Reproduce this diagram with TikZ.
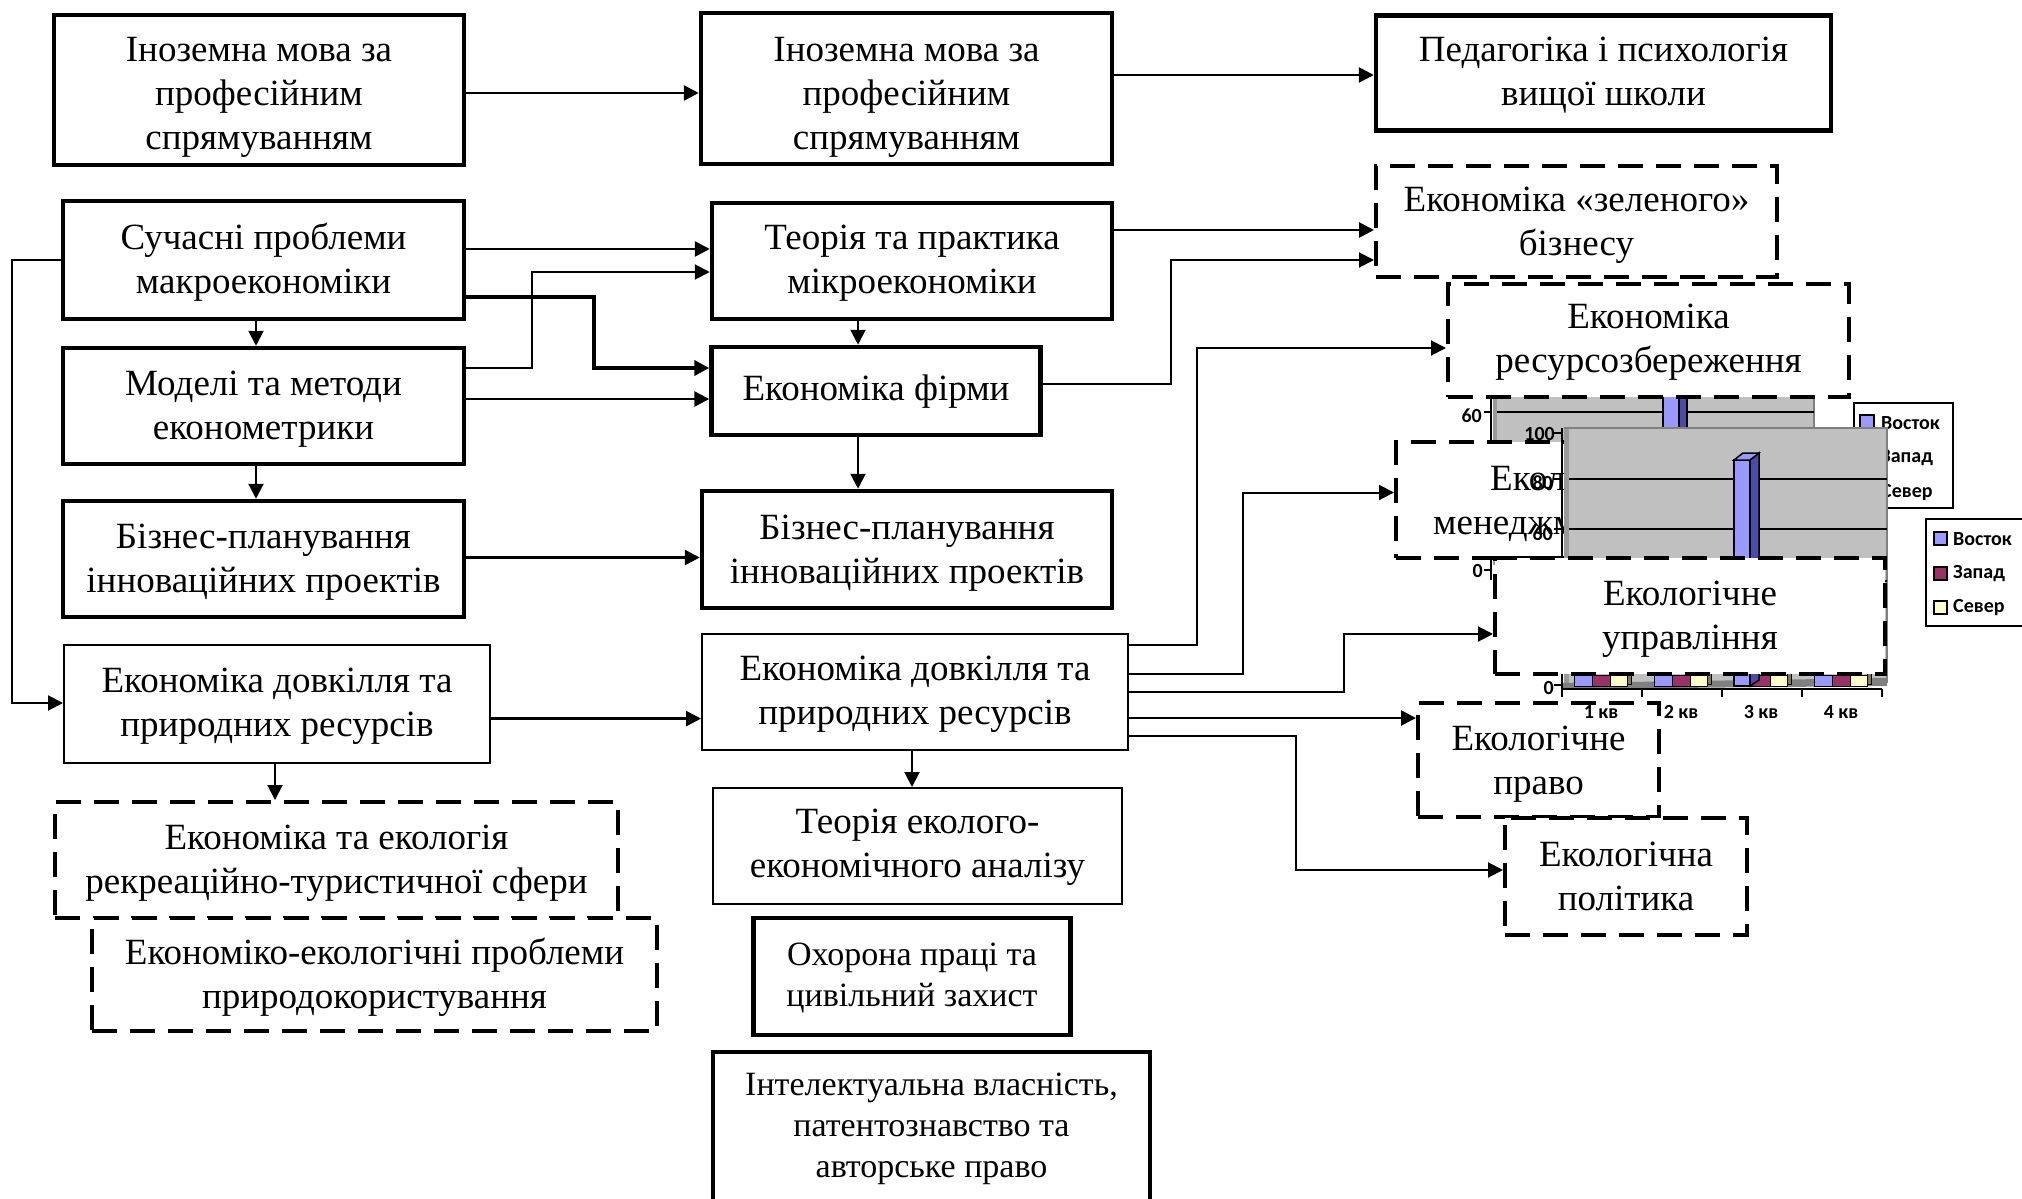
\documentclass[tikz,border=0pt]{standalone}
\usepackage{fontspec}
\setmainfont{Liberation Serif}
\newfontfamily\chartfont{Carlito}
\usetikzlibrary{arrows.meta}
\definecolor{chartgray}{HTML}{C0C0C0}
\definecolor{wallgray}{HTML}{9A9A9A}
\definecolor{edgegray}{HTML}{808080}
\definecolor{vostok}{HTML}{9999FF}
\definecolor{vostokside}{HTML}{4C4CA6}
\definecolor{zapad}{HTML}{993366}
\definecolor{sever}{HTML}{FFFFCC}
\definecolor{olive}{HTML}{807850}
\newcommand\boxfont{\fontsize{37}{44}\selectfont}
\newcommand\smallboxfont{\fontsize{34}{41}\selectfont}
\newcommand\lblfont{\chartfont\bfseries\fontsize{20}{22}\selectfont}
% box: style, name, cx, cy, w, h, text-offset, text
\newcommand\bx[8]{%
  \node[#1, minimum width=#5pt, minimum height=#6pt] (#2) at (#3,#4) {};
  \node[boxtext] (#2t) at (#3,{#4+#7}) {#8};}
\tikzset{
  box/.style={draw, fill=white, inner sep=0pt},
  boxtext/.style={inner sep=0pt, align=center, font=\boxfont},
  thickbox/.style={box, line width=4.5pt},
  thinbox/.style={box, line width=2pt},
  dashbox/.style={box, line width=4pt, dash pattern=on 25pt off 13pt},
  tip/.style={-{Triangle[length=15pt,width=15pt]}},
  arr/.style={tip, line width=2.7pt},
  thinarr/.style={tip, line width=2pt},
  boldarr/.style={tip, line width=4pt},
  lbl/.style={font=\lblfont, inner sep=0pt},
  gridln/.style={line width=2pt, black},
  sq/.style={draw=black, line width=1.5pt}
}
\begin{document}
\begin{tikzpicture}[x=1pt,y=-1pt]
\useasboundingbox (0,0) rectangle (2022,1199);
\fill[white] (0,0) rectangle (2022,1199);

% ---------- back chart ----------
\fill[wallgray] (1493,300) rectangle (1497,565);
\fill[chartgray] (1497,300) rectangle (1814,565);
\draw[edgegray, line width=2pt] (1814,300) -- (1814,565);
\draw[gridln] (1497,412) -- (1814,412);
\fill[vostok] (1663,300) rectangle (1679,440);
\fill[vostokside] (1679,300) rectangle (1687,440);
\draw[line width=1.5pt] (1663,300) -- (1663,440) (1679,300) -- (1679,440) (1687,300) -- (1687,440);
\draw[line width=2.5pt] (1491,300) -- (1491,580);
\draw[line width=2pt] (1484,412) -- (1491,412) (1484,570) -- (1491,570);
\node[lbl, anchor=east] (b60) at (1482,416) {60};
\node[lbl, anchor=east] (b0) at (1483,571) {0};
% back legend
\draw[line width=2pt, fill=white] (1854,403) rectangle (1953,508);
\filldraw[sq, fill=vostok] (1860,415) rectangle (1874,429);
\filldraw[sq, fill=zapad] (1860,450) rectangle (1874,464);
\filldraw[sq, fill=sever] (1860,485) rectangle (1874,499);
\node[lbl, anchor=west] (bl1) at (1881,423) {Восток};
\node[lbl, anchor=west] (bl2) at (1881,458) {Запад};
\node[lbl, anchor=west] (bl3) at (1881,493) {Север};

% ---------- top row ----------
\bx{thickbox}{A1}{259}{90}{410}{150}{7}{Іноземна мова за\\професійним\\спрямуванням}
\bx{thickbox}{A2}{906.5}{88.5}{411}{151}{9}{Іноземна мова за\\професійним\\спрямуванням}
\bx{thickbox}{A3}{1603.5}{73}{455}{115}{2}{Педагогіка і психологія\\вищої школи}

% ---------- left column ----------
\bx{thickbox}{B1}{263.5}{260}{401}{118}{2}{Сучасні проблеми\\макроекономіки}
\bx{thickbox}{B2}{263.5}{406}{401}{116}{3}{Моделі та методи\\економетрики}
\bx{thickbox}{B3}{263.5}{559}{401}{116}{3}{Бізнес-планування\\інноваційних проектів}
\bx{thinbox}{B4}{277}{704}{426}{118}{2}{Економіка довкілля та\\природних ресурсів}
\bx{dashbox}{B5}{336.5}{860}{563}{116}{3}{Економіка та екологія\\рекреаційно-туристичної сфери}
\bx{dashbox}{B6}{374.5}{974.5}{565}{113}{3}{Економіко-екологічні проблеми\\природокористування}

% ---------- middle column ----------
\bx{thickbox}{C1}{912}{261}{400}{116}{2}{Теорія та практика\\мікроекономіки}
\bx{thickbox}{C2}{876}{391}{329}{88}{1}{Економіка фірми}
\bx{thickbox}{C3}{907}{549.5}{410}{117}{4}{Бізнес-планування\\інноваційних проектів}
\bx{thinbox}{C4}{915}{692}{426}{116}{2}{Економіка довкілля та\\природних ресурсів}
\bx{thinbox}{C5}{917.5}{846}{409}{116}{1}{Теорія еколого-\\економічного аналізу}
\node[thickbox, minimum width=317pt, minimum height=117pt] (C6) at (912,976.5) {};
\node[boxtext, font=\smallboxfont] (C6t) at (912,978) {Охорона праці та\\цивільний захист};
\node[thickbox, minimum width=437pt, minimum height=154pt] (C7) at (931.5,1129) {};
\node[boxtext, font=\smallboxfont] (C7t) at (931.5,1129) {Інтелектуальна власність,\\патентознавство та\\авторське право};

% ---------- right column ----------
\bx{dashbox}{D1}{1576.5}{221.5}{401}{111}{4}{Економіка «зеленого»\\бізнесу}
\bx{dashbox}{D2}{1648.5}{340.5}{401}{113}{2}{Економіка\\ресурсозбереження}
\node[dashbox, minimum width=304pt, minimum height=116pt] (D3) at (1548,500) {};
\node[anchor=base west, inner sep=0pt, font=\boxfont] (D3a) at (1490,490) {Екологічний};
\node[anchor=base west, inner sep=0pt, font=\boxfont] (D3b) at (1433,534) {менеджмент};
\bx{dashbox}{D5}{1538.5}{760}{241}{114}{4}{Екологічне\\право}
\bx{dashbox}{D6}{1626}{876.5}{242}{117}{0}{Екологічна\\політика}

% ---------- front chart ----------
\fill[wallgray] (1564,428) rectangle (1569,688);
\fill[chartgray] (1569,428) rectangle (1887,683);
\draw[edgegray, line width=2pt] (1564,428) -- (1887,428) -- (1887,683);
\foreach \yy in {479,529,581,633} \draw[gridln] (1569,\yy) -- (1887,\yy);
\fill[edgegray] (1562,683) -- (1887,678) -- (1887,686) -- (1562,689) -- cycle;
\foreach \k in {0,1,2,3} {
  \filldraw[sq, line width=1pt, fill=vostok] ({1574+80*\k},675) rectangle ({1592+80*\k},686);
  \filldraw[sq, line width=1pt, fill=zapad] ({1592+80*\k},675) rectangle ({1610+80*\k},686);
  \filldraw[sq, line width=1pt, fill=sever] ({1610+80*\k},675) rectangle ({1627+80*\k},686);
  \filldraw[sq, line width=1pt, fill=olive] ({1627+80*\k},673) rectangle ({1631+80*\k},684);
}
\filldraw[line width=1.5pt, fill=vostok] (1734,460) rectangle (1750,686);
\filldraw[line width=1.5pt, fill=vostokside] (1750,460) -- (1759,453) -- (1759,680) -- (1750,686) -- cycle;
\filldraw[line width=1.5pt, fill=vostok] (1734,460) -- (1743,453) -- (1759,453) -- (1750,460) -- cycle;
\draw[line width=2.5pt] (1562,428) -- (1562,689) -- (1882,689);
\foreach \yy in {433,479,529,581,633,685} \draw[line width=2pt] (1554,\yy) -- (1562,\yy);
\foreach \xx in {1562,1642,1722,1802,1882} \draw[line width=2pt] (\xx,689) -- (\xx,697);
\node[lbl, anchor=east] (f100) at (1555,434) {100};
\node[lbl, anchor=east] (f80) at (1553,483) {80};
\node[lbl, anchor=east] (f60) at (1553,534) {60};
\node[lbl, anchor=east] (f0) at (1554,688) {0};
\node[lbl] (q1) at (1601,712) {1 кв};
\node[lbl] (q2) at (1681,712) {2 кв};
\node[lbl] (q3) at (1761,712) {3 кв};
\node[lbl] (q4) at (1841,712) {4 кв};
% front legend
\draw[line width=2pt, fill=white] (1926,519) rectangle (2040,626);
\filldraw[sq, fill=vostok] (1934,532) rectangle (1947,545);
\filldraw[sq, fill=zapad] (1934,567) rectangle (1947,580);
\filldraw[sq, fill=sever] (1934,601) rectangle (1947,614);
\node[lbl, anchor=west] (fl1) at (1953,539) {Восток};
\node[lbl, anchor=west] (fl2) at (1953,574) {Запад};
\node[lbl, anchor=west] (fl3) at (1953,608) {Север};

\bx{dashbox}{D4}{1690}{616}{390}{116}{3}{Екологічне\\управління}

% ---------- connectors ----------
\draw[arr] (A1.east |- 0,93) -- (A2.west |- 0,93);
\draw[arr] (A2.east |- 0,75) -- (A3.west |- 0,75);
\draw[arr] (B1.east |- 0,249) -- (C1.west |- 0,249);
\draw[thinarr] (B2.east |- 0,367.5) -| (532,272) -- (C1.west |- 0,272);
\draw[boldarr] (B1.east |- 0,297) -| (594,368) -- (C2.west |- 0,368);
\draw[arr] (B2.east |- 0,399) -- (C2.west |- 0,399);
\draw[thinarr] (B1.south -| 256,0) -- (B2.north -| 256,0);
\draw[thinarr] (B2.south -| 256,0) -- (B3.north -| 256,0);
\draw[arr] (B3.east |- 0,557.5) -- (C3.west |- 0,557.5);
\draw[thinarr] (B1.west |- 0,260) -- (12,260) |- (B4.west |- 0,703);
\draw[arr] (B4.east |- 0,718.6) -- (C4.west |- 0,718.6);
\draw[thinarr] (B4.south -| 275,0) -- (B5.north -| 275,0);
\draw[arr] (C1.east |- 0,230) -- (D1.west |- 0,230);
\draw[thinarr] (C2.east |- 0,384) -| (1170.5,260) -- (D1.west |- 0,260);
\draw[thinarr] (C1.south -| 858,0) -- (C2.north -| 858,0);
\draw[thinarr] (C2.south -| 858,0) -- (C3.north -| 858,0);
\draw[thinarr] (C4.east |- 0,645) -| (1197,348) -- (D2.west |- 0,348);
\draw[thinarr] (C4.east |- 0,674) -| (1243,492.5) -- (D3.west |- 0,492.5);
\draw[thinarr] (C4.east |- 0,692) -| (1344,634) -- (D4.west |- 0,634);
\draw[arr] (C4.east |- 0,718) -- (D5.west |- 0,718);
\draw[thinarr] (C4.east |- 0,736) -| (1296,870) -- (D6.west |- 0,870);
\draw[thinarr] (C4.south -| 912,0) -- (C5.north -| 912,0);
\end{tikzpicture}
\end{document}
